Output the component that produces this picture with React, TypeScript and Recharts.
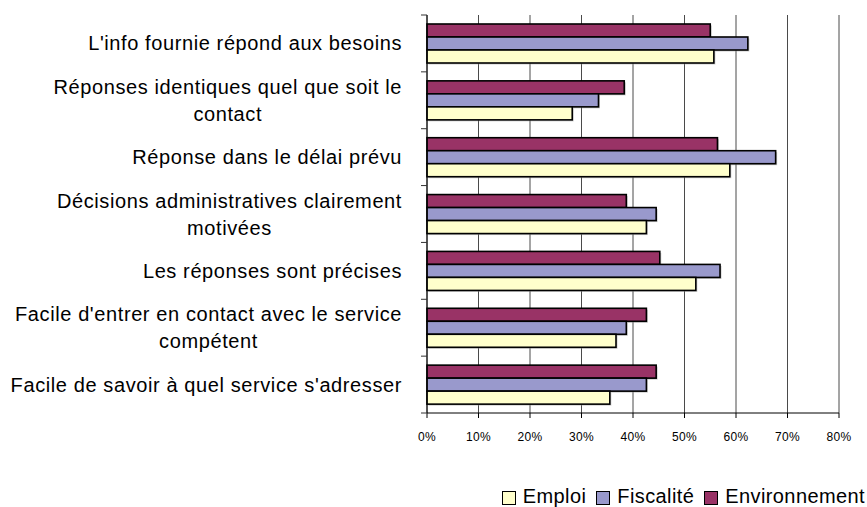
import React from "react";
import { BarChart, Bar, XAxis, YAxis, CartesianGrid } from "recharts";

// categories, top to bottom ("\n" = line break in the label)
const categories = [
  "L'info fournie répond aux besoins",
  "Réponses identiques quel que soit le\ncontact",
  "Réponse dans le délai prévu",
  "Décisions administratives clairement\nmotivées",
  "Les réponses sont précises ",
  "Facile d'entrer en contact avec le service\ncompétent",
  "Facile de savoir à quel service s'adresser",
];

// % values
const emploi = [55.7, 28.2, 58.8, 42.6, 52.2, 36.7, 35.5];
const fiscalite = [62.3, 33.3, 67.7, 44.5, 56.9, 38.7, 42.6];
const environnement = [55.0, 38.3, 56.4, 38.7, 45.2, 42.6, 44.5];

const xTicks = [0, 10, 20, 30, 40, 50, 60, 70, 80];

const data = categories.map((label, i) => ({
  label,
  emploi: emploi[i],
  fiscalite: fiscalite[i],
  environnement: environnement[i],
}));

const W = 867;
const H = 507;
const TOP = 15;
const RIGHT = 28;
const X_AXIS_H = 94;
const Y_AXIS_W = 427;
const FONT = '"Liberation Sans", Arial, sans-serif';
const LABEL_SIZE = 20;
const LABEL_LS = 0.6;

const COLORS = {
  emploi: "#FFFFCC",
  fiscalite: "#9999CC",
  environnement: "#993366",
};

let ctx: CanvasRenderingContext2D | null = null;
function textWidth(s: string) {
  if (!ctx) ctx = document.createElement("canvas").getContext("2d");
  if (!ctx) return s.length * 10;
  ctx.font = `${LABEL_SIZE}px ${FONT}`;
  return ctx.measureText(s).width + s.length * LABEL_LS;
}

function CategoryTick(props: any) {
  const { y, payload, index } = props;
  const half = payload?.offset || (H - TOP - X_AXIS_H) / categories.length / 2;
  const axisX = Y_AXIS_W;
  const right = axisX - 25;
  const lines = String(payload.value).split("\n");
  const w0 = textWidth(lines[0].trimEnd());
  const cx = right - w0 / 2;
  const lh = 27;
  const start = y - ((lines.length - 1) * lh) / 2 + 7;
  return (
    <g>
      <line x1={axisX - 6} x2={axisX} y1={y - half} y2={y - half} stroke="#333" />
      {index === categories.length - 1 && (
        <line x1={axisX - 6} x2={axisX} y1={y + half} y2={y + half} stroke="#333" />
      )}
      {lines.map((l, i) => (
        <text
          key={i}
          x={lines.length > 1 ? cx : right}
          y={start + i * lh}
          textAnchor={lines.length > 1 ? "middle" : "end"}
          fontSize={LABEL_SIZE}
          letterSpacing={LABEL_LS}
          fontFamily={FONT}
          fill="#000"
        >
          {lines.length > 1 ? l : l.trimEnd()}
        </text>
      ))}
    </g>
  );
}

function ShadowBar(props: any) {
  const { x, y, width, height, fill } = props;
  if (!width || width <= 0) return null;
  return (
    <g>
      <rect x={x + 1.5} y={y + 1.5} width={width} height={height} fill="#999" opacity={0.5} />
      <rect x={x} y={y} width={width} height={height} fill={fill} stroke="#000" strokeWidth={1.6} />
    </g>
  );
}

const legendItems = [
  { key: "emploi", name: "Emploi" },
  { key: "fiscalite", name: "Fiscalité" },
  { key: "environnement", name: "Environnement" },
] as const;

export default function App() {
  return (
    <div style={{ position: "relative", width: W, height: H, background: "#fff", fontFamily: FONT }}>
      <style>{"body{margin:0}"}</style>
      <BarChart
        width={W}
        height={H}
        data={data}
        layout="vertical"
        margin={{ top: TOP, right: RIGHT, bottom: 0, left: 0 }}
        barCategoryGap={9}
        barGap={0}
      >
        <CartesianGrid horizontal={false} stroke="#4a4a4a" />
        <XAxis
          type="number"
          domain={[0, 80]}
          ticks={xTicks}
          interval={0}
          tickFormatter={(v) => `${v}%`}
          height={X_AXIS_H}
          tickSize={5}
          tickMargin={14}
          stroke="#000"
          tick={{ fontSize: 12, fill: "#000", fontFamily: FONT, letterSpacing: 0.3 }}
        />
        <YAxis
          type="category"
          dataKey="label"
          width={Y_AXIS_W}
          interval={0}
          tickLine={false}
          axisLine={{ stroke: "#000" }}
          tick={<CategoryTick />}
        />
        <Bar dataKey="environnement" fill={COLORS.environnement} shape={<ShadowBar />} isAnimationActive={false} />
        <Bar dataKey="fiscalite" fill={COLORS.fiscalite} shape={<ShadowBar />} isAnimationActive={false} />
        <Bar dataKey="emploi" fill={COLORS.emploi} shape={<ShadowBar />} isAnimationActive={false} />
      </BarChart>
      <div
        style={{
          position: "absolute",
          right: 2,
          top: 486,
          display: "flex",
          alignItems: "flex-start",
          fontSize: 20,
          lineHeight: "20px",
          letterSpacing: 0.4,
          color: "#000",
          whiteSpace: "nowrap",
        }}
      >
        {legendItems.map((it) => (
          <div key={it.key} style={{ display: "flex", alignItems: "flex-start", marginLeft: 10 }}>
            <span
              style={{
                display: "inline-block",
                boxSizing: "border-box",
                width: 14,
                height: 14,
                border: "1.5px solid #000",
                background: COLORS[it.key],
                marginRight: 7,
                marginTop: 5,
              }}
            />
            <span>{it.name}</span>
          </div>
        ))}
      </div>
    </div>
  );
}
